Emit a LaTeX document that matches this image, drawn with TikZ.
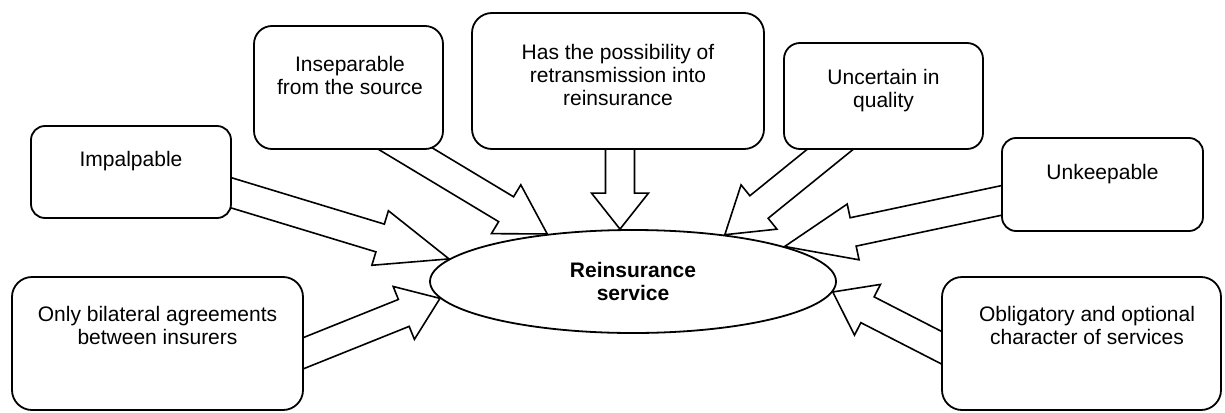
\documentclass[tikz,border=0pt]{standalone}
\usepackage{fontspec}
\setmainfont{Liberation Sans}
\usetikzlibrary{shapes,calc}
\pgfdeclarelayer{back}
\pgfsetlayers{back,main}

% hollow block arrow: start, tip, head length
\newcommand{\blockarrow}[3]{%
  \coordinate (ba-t) at (#2);
  \coordinate (ba-s) at ($(#1)!-40pt!(ba-t)$);
  \coordinate (ba-h) at ($(ba-t)!#3!(ba-s)$);
  \draw[barrow] ($(ba-s)!14.5pt!90:(ba-t)$) -- ($(ba-h)!14.5pt!90:(ba-t)$)
    -- ($(ba-h)!28.5pt!90:(ba-t)$) -- (ba-t)
    -- ($(ba-h)!28.5pt!-90:(ba-t)$) -- ($(ba-h)!14.5pt!-90:(ba-t)$)
    -- ($(ba-s)!14.5pt!-90:(ba-t)$) -- cycle;
}

\begin{document}
\begin{tikzpicture}[
    x=1pt, y=-1pt,
    line width=1.8pt,
    every node/.style={font=\fontsize{21}{23}\selectfont, align=center},
    box/.style={draw, fill=white, rectangle, inner sep=0pt},
    core/.style={draw, fill=white, ellipse, inner sep=0pt, minimum width=406pt, minimum height=103pt, font=\fontsize{21}{23}\selectfont\bfseries},
    barrow/.style={draw, line join=miter, line width=1.6pt}
]
    \useasboundingbox (0,0) rectangle (1225,412);

    % boxes
    \node[box, minimum width=200pt, minimum height=92pt, rounded corners=14pt] (impal) at (131,172) {};
    \node[box, minimum width=189pt, minimum height=123pt, rounded corners=18pt] (insep) at (348.5,87.5) {};
    \node[box, minimum width=292pt, minimum height=136pt, rounded corners=20pt] (retrans) at (618,81) {};
    \node[box, minimum width=199pt, minimum height=106pt, rounded corners=16pt] (uncert) at (883.5,96) {};
    \node[box, minimum width=201pt, minimum height=93pt, rounded corners=14pt] (unkeep) at (1102.5,184.5) {};
    \node[box, minimum width=291pt, minimum height=133pt, rounded corners=20pt] (bilat) at (157.5,343.5) {};
    \node[box, minimum width=279pt, minimum height=133pt, rounded corners=20pt] (oblig) at (1081.5,343.5) {};
    \node[core] (serv) at (633,281.5) {Reinsurance\\service};

    % texts
    \node (impal-t) at ($(impal.north)+(0,36)$) {Impalpable};
    \node (insep-t) at ($(insep.north)+(1.5,50)$) {Inseparable\\from the source};
    \node (retrans-t) at ($(retrans.north)+(0,62.5)$) {Has the possibility of\\retransmission into\\reinsurance};
    \node (uncert-t) at ($(uncert.north)+(0,48.5)$) {Uncertain in\\quality};
    \node (unkeep-t) at ($(unkeep.north)+(0,37)$) {Unkeepable};
    \node (bilat-t) at ($(bilat.north)+(0,49.5)$) {Only bilateral agreements\\between insurers};
    \node (oblig-t) at ($(oblig.north)+(5.5,49.5)$) {Obligatory and optional\\character of services};

    % arrow roots
    \coordinate (s1) at ($(impal.east)+(0,21)$);
    \coordinate (s2) at ($(insep.south)+(59,0)$);
    \coordinate (s3) at ($(retrans.south)+(2,0)$);
    \coordinate (s4) at ($(uncert.south)+(-54,0)$);
    \coordinate (s5) at ($(unkeep.west)+(0,16)$);
    \coordinate (s6) at ($(bilat.east)+(0,9.5)$);
    \coordinate (s7) at ($(oblig.west)+(0,4)$);

    \begin{pgfonlayer}{back}
        \blockarrow{s1}{serv.173}{72pt}
        \blockarrow{s2}{serv.151}{48pt}
        \blockarrow{s3}{s3 |- serv.north}{36pt}
        \blockarrow{s4}{serv.27}{44pt}
        \blockarrow{s5}{serv.13}{70pt}
        \blockarrow{s6}{serv.185}{39pt}
        \blockarrow{s7}{serv.357}{39pt}
    \end{pgfonlayer}
\end{tikzpicture}
\end{document}
